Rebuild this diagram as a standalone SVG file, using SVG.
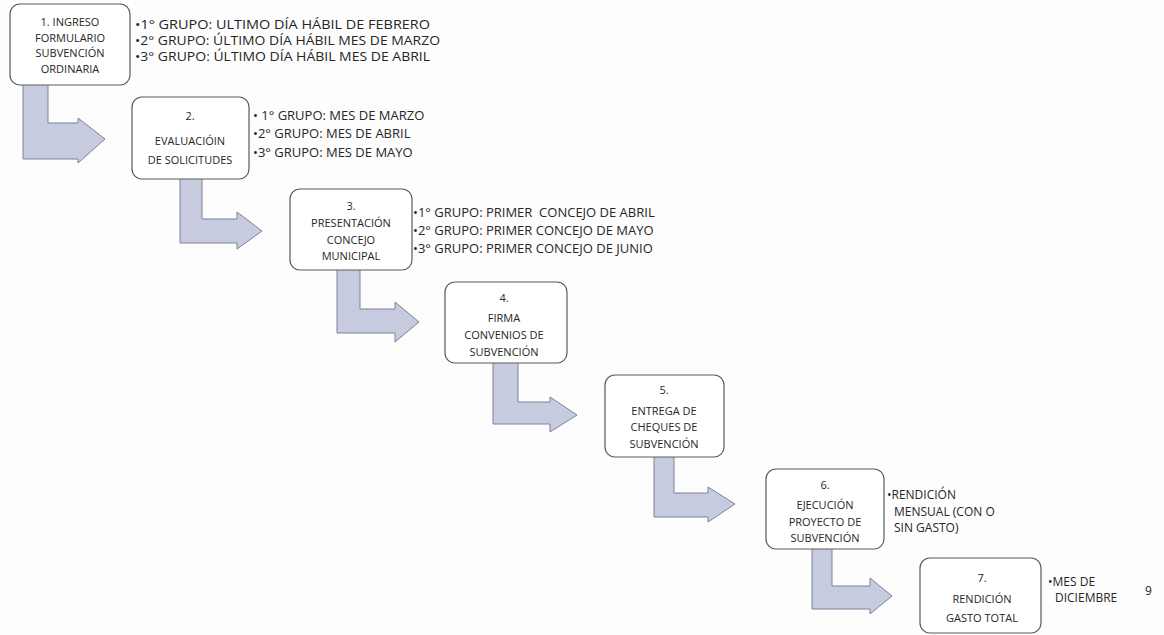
<svg xmlns="http://www.w3.org/2000/svg" width="1164" height="635" viewBox="0 0 1164 635">
  <style>
    .bg { fill: #fdfdfd; }
    .arrow { fill: #c6cbe0; stroke: #7f8294; stroke-width: 1; }
    .box { fill: #ffffff; stroke: #5a5a5a; stroke-width: 1.2; }
    .t { font-family: "Open Sans", "Liberation Sans", sans-serif; font-size: 11px; fill: #262626; }
    .b { font-size: 13px; }
    .b12 { font-size: 12px; }
    .c { text-anchor: middle; }
    .pre { white-space: pre; }
  </style>
  <rect class="bg" x="0" y="0" width="1164" height="635"/>

  <g id="connectors">
    <path class="arrow" d="M23,83 L48,83 L48,123 L78,123 L78,118 L105,139 L78,163 L78,159 L23,159 Z"/>
    <path class="arrow" d="M180,177 L202,177 L202,219 L237,219 L237,212 L262,231 L237,249 L237,243 L180,243 Z"/>
    <path class="arrow" d="M337,268 L360,268 L360,309 L395,309 L395,302 L419,322 L395,342 L395,333 L337,333 Z"/>
    <path class="arrow" d="M493,361 L518,361 L518,402 L550,402 L550,397 L577,415 L550,432 L550,424 L493,424 Z"/>
    <path class="arrow" d="M654,455 L674,455 L674,493 L708,493 L708,487 L735,504 L708,522 L708,517 L654,517 Z"/>
    <path class="arrow" d="M812,547 L832,547 L832,586 L870,586 L870,578 L892,596 L870,614 L870,609 L812,609 Z"/>
  </g>

  <g id="node1">
    <rect class="box" x="10" y="4" width="120" height="81" rx="10"/>
    <text class="t c" x="70" y="26">1. INGRESO</text>
    <text class="t c" x="70" y="42">FORMULARIO</text>
    <text class="t c" x="70" y="57">SUBVENCIÓN</text>
    <text class="t c" x="70" y="73">ORDINARIA</text>
    <text class="t b12" x="135" y="29" textLength="295" lengthAdjust="spacingAndGlyphs">•1° GRUPO: ULTIMO DÍA HÁBIL DE FEBRERO</text>
    <text class="t b12" x="135" y="45" textLength="305" lengthAdjust="spacingAndGlyphs">•2° GRUPO: ÚLTIMO DÍA HÁBIL MES DE MARZO</text>
    <text class="t b12" x="135" y="61" textLength="295" lengthAdjust="spacingAndGlyphs">•3° GRUPO: ÚLTIMO DÍA HÁBIL MES DE ABRIL</text>
  </g>

  <g id="node2">
    <rect class="box" x="132" y="97" width="117" height="82" rx="10"/>
    <text class="t c" x="190" y="120">2.</text>
    <text class="t c" x="190" y="145">EVALUACIÓIN</text>
    <text class="t c" x="190" y="164">DE SOLICITUDES</text>
    <text class="t b" x="253" y="120">• 1° GRUPO: MES DE MARZO</text>
    <text class="t b" x="253" y="138">•2° GRUPO: MES DE ABRIL</text>
    <text class="t b" x="253" y="157">•3° GRUPO: MES DE MAYO</text>
  </g>

  <g id="node3">
    <rect class="box" x="290" y="189" width="122" height="81" rx="10"/>
    <text class="t c" x="351" y="210">3.</text>
    <text class="t c" x="351" y="227">PRESENTACIÓN</text>
    <text class="t c" x="351" y="244">CONCEJO</text>
    <text class="t c" x="351" y="260">MUNICIPAL</text>
    <text class="t b pre" x="413" y="217">•1° GRUPO: PRIMER  CONCEJO DE ABRIL</text>
    <text class="t b" x="413" y="235">•2° GRUPO: PRIMER CONCEJO DE MAYO</text>
    <text class="t b" x="413" y="253">•3° GRUPO: PRIMER CONCEJO DE JUNIO</text>
  </g>

  <g id="node4">
    <rect class="box" x="445" y="282" width="122" height="81" rx="10"/>
    <text class="t c" x="504" y="302">4.</text>
    <text class="t c" x="504" y="322">FIRMA</text>
    <text class="t c" x="504" y="339">CONVENIOS DE</text>
    <text class="t c" x="504" y="356">SUBVENCIÓN</text>
  </g>

  <g id="node5">
    <rect class="box" x="605" y="375" width="119" height="82" rx="10"/>
    <text class="t c" x="664" y="394">5.</text>
    <text class="t c" x="664" y="415">ENTREGA DE</text>
    <text class="t c" x="664" y="431">CHEQUES DE</text>
    <text class="t c" x="664" y="448">SUBVENCIÓN</text>
  </g>

  <g id="node6">
    <rect class="box" x="766" y="469" width="118" height="80" rx="10"/>
    <text class="t c" x="825" y="489">6.</text>
    <text class="t c" x="825" y="509">EJECUCIÓN</text>
    <text class="t c" x="825" y="526">PROYECTO DE</text>
    <text class="t c" x="825" y="542">SUBVENCIÓN</text>
    <text class="t b12" x="887" y="499">•RENDICIÓN</text>
    <text class="t b12" x="894" y="516">MENSUAL (CON O</text>
    <text class="t b12" x="894" y="532">SIN GASTO)</text>
  </g>

  <g id="node7">
    <rect class="box" x="920" y="558" width="121" height="75" rx="10"/>
    <text class="t c" x="982" y="582">7.</text>
    <text class="t c" x="982" y="603">RENDICIÓN</text>
    <text class="t c" x="982" y="622">GASTO TOTAL</text>
    <text class="t b12" x="1048" y="586">•MES DE</text>
    <text class="t b12" x="1055" y="602">DICIEMBRE</text>
  </g>

  <text class="t" x="1145" y="595" style="font-size:12px">9</text>
</svg>
